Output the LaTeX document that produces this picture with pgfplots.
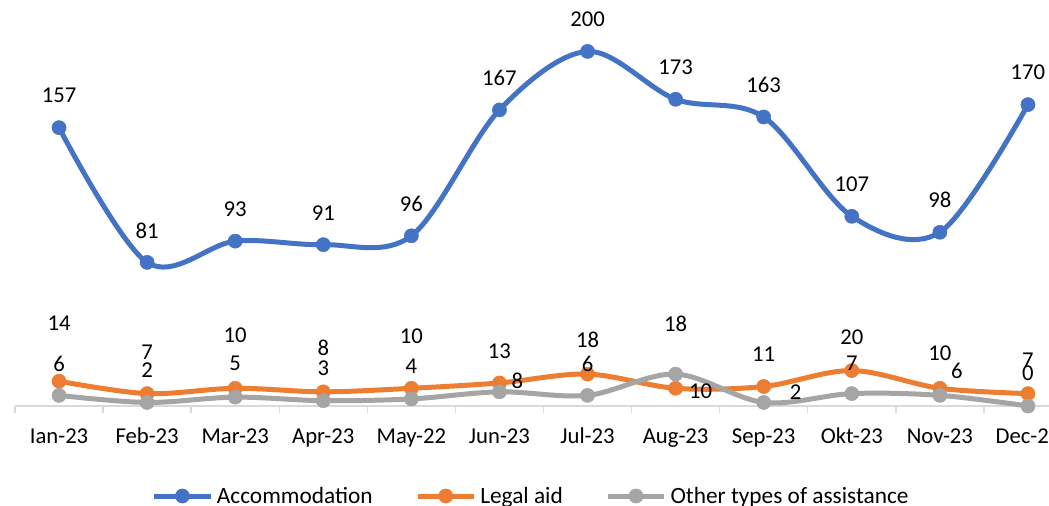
\documentclass[border=0pt]{standalone}
\usepackage{pgfplots}
\usepackage{pgfplotstable}
\pgfplotsset{compat=1.18}
\usepackage{fontspec}
\setmainfont{Carlito}
\definecolor{cblue}{HTML}{4472C4}
\definecolor{corange}{HTML}{ED7D31}
\definecolor{cgray}{HTML}{A5A5A5}
\definecolor{axisgray}{HTML}{D9D9D9}

\pgfplotstableread{
x y dx dy
0 157 0 24
1 81 0 24
2 93 0 24
3 91 0 24
4 96 0 24
5 167 0 24
6 200 0 24
7 173 0 24
8 163 0 24
9 107 0 24
10 98 0 24
11 170 0 24
}\accom

\pgfplotstableread{
x y dx dy
0 14 0 43.5
1 7 0 30.75
2 10 0 39.75
3 8 0 33
4 10 0 39
5 13 0 24
6 18 0 25.5
7 10 18.75 -2.25
8 11 0 24
9 20 0 24.75
10 10 0 26
11 7 0 24.75
}\legal

\pgfplotstableread{
x y dx dy
0 6 0 23.25
1 2 0 24
2 5 0 25.5
3 3 0 24
4 4 0 24.75
5 8 13.5 8.25
6 6 0 23.25
7 18 0 37.5
8 2 24 7.5
9 7 0 22.5
10 6 12.75 18
11 0 0 24.75
}\other

\begin{document}
\begin{tikzpicture}
\begin{axis}[
  scale only axis,
  width=792.75pt, height=304.5pt,
  xmin=-0.5, xmax=11.5, ymin=0, ymax=229,
  clip=false,
  axis x line*=bottom,
  axis y line=none,
  x axis line style={draw=axisgray, line width=1.1pt, -},
  xtick={0,...,11},
  xticklabels={Ian-23,Feb-23,Mar-23,Apr-23,May-22,Jun-23,Jul-23,Aug-23,Sep-23,Okt-23,Nov-23,Dec-23},
  minor xtick={-0.5,0.5,...,11.5},
  major tick length=0pt,
  minor tick length=5pt,
  tick align=outside,
  every tick/.style={draw=axisgray, line width=1.1pt},
  xticklabel style={font=\fontsize{17}{20}\selectfont, anchor=base, yshift=-27.75pt},
  /pgf/number format/assume math mode=true,
  nodes near coords,
  visualization depends on={\thisrow{dx} \as \dx},
  visualization depends on={\thisrow{dy} \as \dy},
  every node near coord/.append style={font=\fontsize{17}{20}\selectfont, text=black, anchor=center, xshift=\dx pt, yshift=\dy pt, inner sep=0pt},
  legend columns=3,
  legend style={at={(0.4887,-0.2217)}, anchor=center, draw=none, fill=none,
    font=\fontsize{17.5}{20}\selectfont,
    /tikz/every even column/.append style={column sep=30pt},
    /tikz/every odd column/.append style={column sep=1pt}},
  legend image code/.code={\draw[mark repeat=2, mark phase=2, #1] plot coordinates {(0pt,0pt) (21pt,0pt) (42pt,0pt)};},
]
\addplot[color=cblue, line width=3.75pt, smooth, tension=0.55, mark=*, mark size=5.3pt, mark options={line width=0.4pt, fill=cblue}] table[x=x,y=y] {\accom};
\addlegendentry{Accommodation}
\addplot[color=corange, line width=3.75pt, smooth, tension=0.55, mark=*, mark size=5.3pt, mark options={line width=0.4pt, fill=corange}] table[x=x,y=y] {\legal};
\addlegendentry{Legal aid}
\addplot[color=cgray, line width=3.75pt, smooth, tension=0.55, mark=*, mark size=5.3pt, mark options={line width=0.4pt, fill=cgray}] table[x=x,y=y] {\other};
\addlegendentry{Other types of assistance}
\end{axis}
\pgfresetboundingbox
\useasboundingbox ([xshift=-11.25pt,yshift=-74.25pt]current axis.south west) rectangle ([xshift=-17.25pt]current axis.north east);
\end{tikzpicture}
\end{document}
